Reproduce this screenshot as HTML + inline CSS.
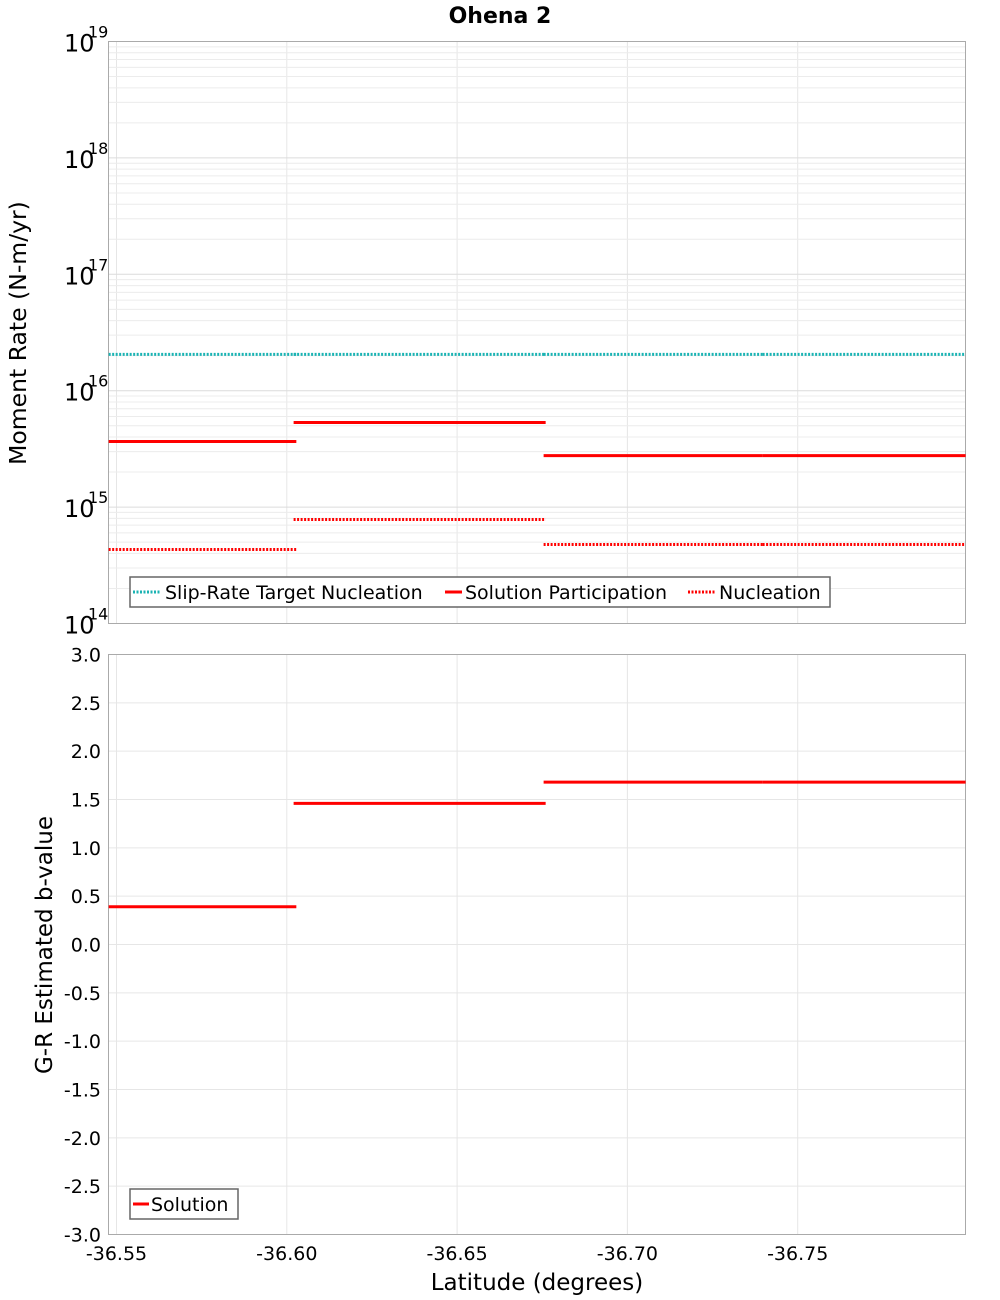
<!DOCTYPE html>
<html><head><meta charset="utf-8"><style>
body{margin:0;background:#fff;}
svg{display:block;font-family:"DejaVu Sans","Liberation Sans",sans-serif;}
</style></head><body>
<svg id="chart" width="1000" height="1300" viewBox="0 0 1000 1300">
<text x="500" y="23" text-anchor="middle" font-size="22" font-weight="bold">Ohena 2</text>
<g id="topPanel"></g>
<g id="botPanel"></g>
<text transform="translate(26,333) rotate(-90)" text-anchor="middle" font-size="23.5">Moment Rate (N-m/yr)</text>
<text transform="translate(52,945) rotate(-90)" text-anchor="middle" font-size="23">G-R Estimated b-value</text>
<text x="537" y="1290" text-anchor="middle" font-size="23">Latitude (degrees)</text>
</svg>
<script>
const xTicks = [-36.55, -36.60, -36.65, -36.70, -36.75];
const segStart = [-36.5477, -36.6020, -36.6754, -36.7397];
const segEnd = [-36.6028, -36.6760, -36.7397, -36.7993];
const targetRate = [2.05e16, 2.05e16, 2.05e16, 2.05e16];
const participation = [3.66e15, 5.33e15, 2.77e15, 2.77e15];
const nucleation = [4.32e14, 7.82e14, 4.77e14, 4.77e14];
const bValues = [0.39, 1.46, 1.68, 1.68];
const logTickExp = [14, 15, 16, 17, 18, 19];
const bTicks = [3.0, 2.5, 2.0, 1.5, 1.0, 0.5, 0.0, -0.5, -1.0, -1.5, -2.0, -2.5, -3.0];

const NS = "http://www.w3.org/2000/svg";
const L = 108.5, R = 965.5;
const xS = v => 116.5 + (-36.55 - v) / 0.05 * 170.3;
const T1 = 41.5, B1 = 623.5, T2 = 654.5, B2 = 1234.5;
const yLog = v => T1 + (19 - Math.log10(v)) * (B1 - T1) / 5;
const yB = v => T2 + (3 - v) * (B2 - T2) / 6;
function mk(tag, attrs, parent, text) {
  const e = document.createElementNS(NS, tag);
  for (const k in attrs) e.setAttribute(k, attrs[k]);
  if (text !== undefined) e.textContent = text;
  parent.appendChild(e);
  return e;
}
const topG = document.getElementById('topPanel'), botG = document.getElementById('botPanel');
for (const p of [[topG, T1, B1], [botG, T2, B2]]) {
  for (const t of xTicks) {
    const g = mk('line', {x1: xS(t), x2: xS(t), y1: p[1], y2: p[2], stroke: '#e6e6e6'}, p[0]);
    
    
  }
}
for (let e = 14; e < 19; e++) for (let m = 1; m < 10; m++) {
  const y = yLog(m * Math.pow(10, e));
  const g = mk('line', {x1: L, x2: R, y1: y, y2: y, stroke: m === 1 ? '#dcdcdc' : '#ececec'}, topG);
  
  
}
for (const t of bTicks) {
  const g = mk('line', {x1: L, x2: R, y1: yB(t), y2: yB(t), stroke: '#e6e6e6'}, botG);
  
  
}
for (const p of [[topG, T1, B1], [botG, T2, B2]]) {
  const f = mk('rect', {x: L, y: p[1], width: R - L, height: p[2] - p[1], fill: 'none', stroke: '#aaa'}, p[0]);
  
  
}
for (const e of logTickExp) {
  const y = yLog(Math.pow(10, e));
  const t = mk('text', {x: 64, y: y + 10, 'font-size': 24}, topG, '10');
  
  
  const s = mk('text', {x: 88, y: y - 4, 'font-size': 16}, topG, String(e));
  
  
}
for (const t of bTicks) {
  const s = mk('text', {x: 101, y: yB(t) + 7, 'font-size': 19, 'text-anchor': 'end'}, botG, t.toFixed(1));
  
  
}
for (const t of xTicks) {
  const s = mk('text', {x: xS(t), y: 1260, 'font-size': 19, 'text-anchor': 'middle'}, botG, t.toFixed(2));
  
  
}
function seg(parent, vals, yf, color, dash, name) {
  for (let i = 0; i < vals.length; i++) {
    const y = yf(vals[i]);
    const a = {x1: xS(segStart[i]), x2: xS(segEnd[i]), y1: y, y2: y, stroke: color, 'stroke-width': 3};
    if (dash) a['stroke-dasharray'] = '2 1.5';
    const l = mk('line', a, parent);
    
    
  }
}
seg(topG, targetRate, yLog, '#1ab3b3', true, 'target-nucleation-segment');
seg(topG, participation, yLog, '#ff0000', false, 'participation-segment');
seg(topG, nucleation, yLog, '#ff0000', true, 'nucleation-segment');
seg(botG, bValues, yB, '#ff0000', false, 'b-value-segment');
const lg = mk('g', {}, topG);


mk('rect', {x: 130, y: 577, width: 700, height: 30, fill: '#fff', stroke: '#666', 'stroke-width': 1.5}, lg);
const items = [['Slip-Rate Target Nucleation', '#1ab3b3', true, 133, 165], ['Solution Participation', '#ff0000', false, 445, 465], ['Nucleation', '#ff0000', true, 688, 719]];
for (const it of items) {
  const a = {x1: it[3], x2: it[3] + 28, y1: 592, y2: 592, stroke: it[1], 'stroke-width': 3};
  if (it[2]) a['stroke-dasharray'] = '2 1.5';
  if (!it[2]) a.x2 = it[3] + 17;
  mk('line', a, lg);
  const t = mk('text', {x: it[4], y: 599, 'font-size': 19}, lg, it[0]);
  
  
}
const lg2 = mk('g', {}, botG);


mk('rect', {x: 130, y: 1189, width: 108, height: 30, fill: '#fff', stroke: '#666', 'stroke-width': 1.5}, lg2);
mk('line', {x1: 133, x2: 149, y1: 1204, y2: 1204, stroke: '#ff0000', 'stroke-width': 3}, lg2);
const st = mk('text', {x: 151, y: 1211, 'font-size': 19}, lg2, 'Solution');


</script>
</body></html>
